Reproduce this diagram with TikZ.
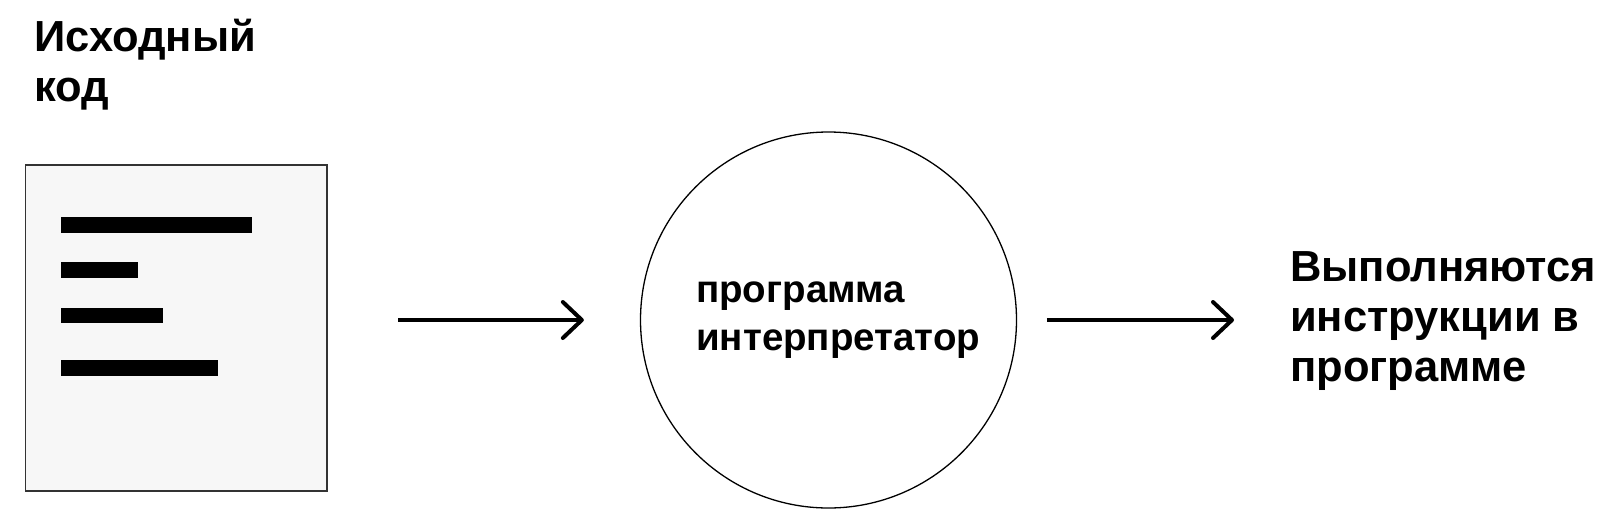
\documentclass[tikz,border=0pt]{standalone}
\usepackage{fontspec}
\setmainfont{Liberation Sans}
\usetikzlibrary{arrows.meta}
\begin{document}
\begin{tikzpicture}[x=1pt,y=-1pt,
  lbl/.style={inner sep=0pt, align=left, font=\bfseries\fontsize{43.5}{50}\selectfont},
  clbl/.style={inner sep=0pt, align=left, font=\bfseries\fontsize{38.5}{48}\selectfont},
  doc/.style={draw=black!80, fill=black!3, line width=1.5pt, inner sep=0pt},
  bar/.style={fill=black, draw=none},
  interp/.style={circle, draw=black, line width=1.3pt, inner sep=0pt, minimum size=376pt},
  arr/.style={line width=4pt, -{Straight Barb[length=19pt,width=36pt,round]}}
]
\useasboundingbox (0,0) rectangle (1614,528);
% title
\node[lbl, anchor=base west] (title) at (34,101.7) {Исходный\\код};
% document box
\node[doc, minimum width=301.5pt, minimum height=326pt, anchor=north west] (box) at (24.5,164) {};
\path[bar] (60.7,216.7) rectangle (251.7,232.7);
\path[bar] (60.7,262) rectangle (137.7,278);
\path[bar] (60.7,307.7) rectangle (163.3,323.3);
\path[bar] (60.7,360) rectangle (218.3,376);
% interpreter
\node[interp] (circ) at (828.5,320) {};
\node[clbl, anchor=base west] (ctext) at (696,350.7) {программа\\интерпретатор};
% output text
\node[lbl, anchor=base west] (out) at (1290,381.7) {Выполняются\\инструкции в\\программе};
% arrows
\draw[arr, shorten <=70.7pt, shorten >=56pt] (box.east |- circ.west) -- (circ.west);
\draw[arr, shorten <=29.7pt, shorten >=56pt] (circ.east) -- (out.west |- circ.east);
\end{tikzpicture}
\end{document}
